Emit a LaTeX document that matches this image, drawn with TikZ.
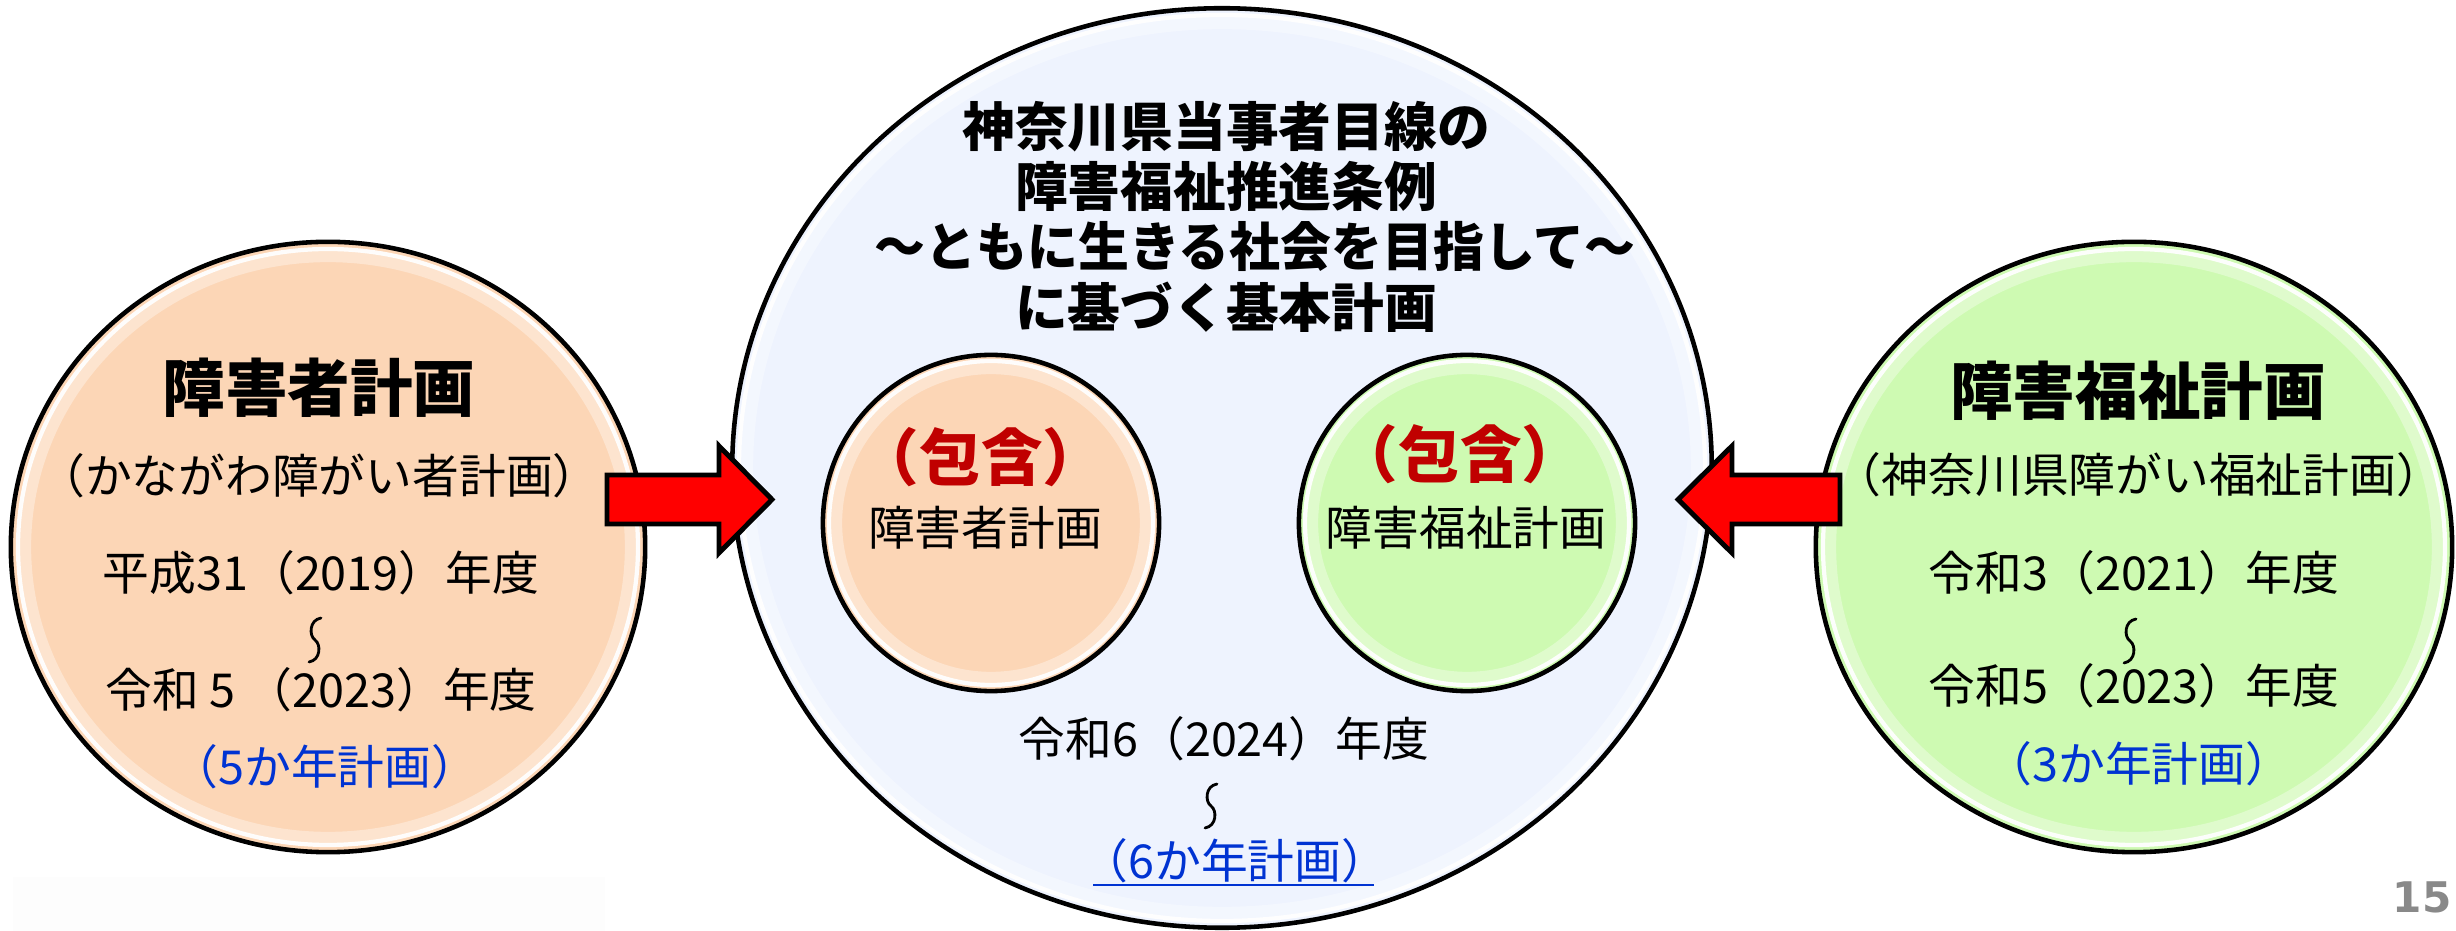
\documentclass[tikz,border=0pt]{standalone}
\usepackage{fontspec}
\setmainfont{Noto Sans CJK JP}
\newfontfamily\numfont{DejaVu Sans}
\usetikzlibrary{shapes.geometric}
\definecolor{peach}{RGB}{252,214,182}
\definecolor{lgreen}{RGB}{206,250,178}
\definecolor{lblue}{RGB}{238,243,254}
\definecolor{txtblue}{RGB}{0,51,210}
\definecolor{dred}{RGB}{192,0,0}
\definecolor{pgray}{RGB}{137,137,137}
\definecolor{faint}{RGB}{253,253,253}
\begin{document}
\begin{tikzpicture}[x=0.01cm,y=-0.01cm,
  bubble/.style={ellipse, draw=black, line width=1.3pt, inner sep=0pt},
  hl/.style={white, line width=1.2pt, opacity=0.95},
  glow/.style={white, line width=3.5pt, opacity=0.35},
  big/.style={font=\fontsize{17.8}{20}\selectfont\bfseries, inner sep=0pt},
  body/.style={font=\fontsize{13.3}{16}\selectfont, inner sep=0pt},
  hou/.style={font=\fontsize{17.5}{20}\selectfont\bfseries, text=dred, inner sep=0pt},
  plan/.style={body, text=txtblue},
  ttl/.style={font=\fontsize{15}{17.16}\selectfont\bfseries, align=center, inner sep=0pt},
  blockarrow/.style={fill=red, draw=black, line width=1.4pt, line join=miter},
  wave/.style={line width=0.8pt, line cap=round},
]
\useasboundingbox (0,0) rectangle (2456,931);
\fill[faint] (13,877) rectangle (605,931);

% bubbles
\node[bubble, fill=peach, minimum width=6.34cm, minimum height=6.10cm] (L) at (328,547) {};
\draw[glow] (L.center) ellipse [x radius=303, y radius=291];
\draw[hl] (L.center) ellipse [x radius=310, y radius=298];

\node[bubble, fill=lgreen, minimum width=6.36cm, minimum height=6.10cm] (R) at (2134,547) {};
\draw[glow] (R.center) ellipse [x radius=304, y radius=291];
\draw[hl] (R.center) ellipse [x radius=311, y radius=298];

\node[bubble, fill=lblue, minimum width=9.79cm, minimum height=9.19cm] (C) at (1222,468) {};
\draw[glow] (C.center) ellipse [x radius=475, y radius=445];
\draw[hl] (C.center) ellipse [x radius=483, y radius=453];

\node[bubble, fill=peach, minimum width=3.36cm, minimum height=3.36cm] (O) at (991,523) {};
\draw[glow] (O.center) ellipse [x radius=155, y radius=155];
\draw[hl] (O.center) ellipse [x radius=162, y radius=162];

\node[bubble, fill=lgreen, minimum width=3.36cm, minimum height=3.36cm] (G) at (1467,523) {};
\draw[glow] (G.center) ellipse [x radius=155, y radius=155];
\draw[hl] (G.center) ellipse [x radius=162, y radius=162];

% block arrows
\draw[blockarrow] (607,475) -- (719,475) -- (719,446) -- (772,499.5) -- (719,553) -- (719,524) -- (607,524) -- cycle;
\draw[blockarrow] (1840,475) -- (1732,475) -- (1732,446) -- (1678,499.5) -- (1732,553) -- (1732,524) -- (1840,524) -- cycle;

% centre title
\node[ttl] (T) at (1226,216.5) {神奈川県当事者目線の\\障害福祉推進条例\\\hspace*{0.58cm}\scalebox{0.965}[1]{～ともに生きる社会を目指して～}\\に基づく基本計画};

% left texts
\node[big] (L1) at (319,388) {障害者計画};
\node[body] (L2) at (319,476) {（かながわ障がい者計画）};
\node[body] (L3) at (321,573) {平成31（2019）年度};
\coordinate (LW) at (315,640);
\draw[wave] ([shift={(6,-22)}]LW) .. controls ([shift={(-6,-20)}]LW) and ([shift={(-6,-4)}]LW) .. (LW) .. controls ([shift={(6,4)}]LW) and ([shift={(6,20)}]LW) .. ([shift={(-6,22)}]LW);
\node[body] (L4) at (321,690) {令和 5 （2023）年度};
\node[plan] (L5) at (325,767) {（5か年計画）};

% centre inner texts
\node[hou] (O1) at (981,457) {（包含）};
\node[body] (O2) at (985,528) {障害者計画};
\node[hou] (G1) at (1460,454) {（包含）};
\node[body] (G2) at (1466,528) {障害福祉計画};
\node[body] (Y) at (1224,739) {令和6（2024）年度};
\coordinate (CW) at (1211,806);
\draw[wave] ([shift={(6,-22)}]CW) .. controls ([shift={(-6,-20)}]CW) and ([shift={(-6,-4)}]CW) .. (CW) .. controls ([shift={(6,4)}]CW) and ([shift={(6,20)}]CW) .. ([shift={(-6,22)}]CW);
\node[plan] (S) at (1235,861) {（6か年計画）};
\coordinate (ul) at (0,885);
\draw[txtblue, line width=0.75pt] ([xshift=0.12cm]S.west |- ul) -- ([xshift=-0.15cm]S.east |- ul);

% right texts
\node[big] (R1) at (2138,391) {障害福祉計画};
\node[body] (R2) at (2139,475) {（神奈川県障がい福祉計画）};
\node[body] (R3) at (2134,573) {令和3（2021）年度};
\coordinate (RW) at (2130,641);
\draw[wave] ([shift={(6,-22)}]RW) .. controls ([shift={(-6,-20)}]RW) and ([shift={(-6,-4)}]RW) .. (RW) .. controls ([shift={(6,4)}]RW) and ([shift={(6,20)}]RW) .. ([shift={(-6,22)}]RW);
\node[body] (R4) at (2134,686) {令和5（2023）年度};
\node[plan] (R5) at (2139,764) {（3か年計画）};

% page number
\node[font=\numfont\bfseries\fontsize{12}{14}\selectfont, text=pgray, inner sep=0pt] (P) at (2422,897) {15};
\end{tikzpicture}
\end{document}
